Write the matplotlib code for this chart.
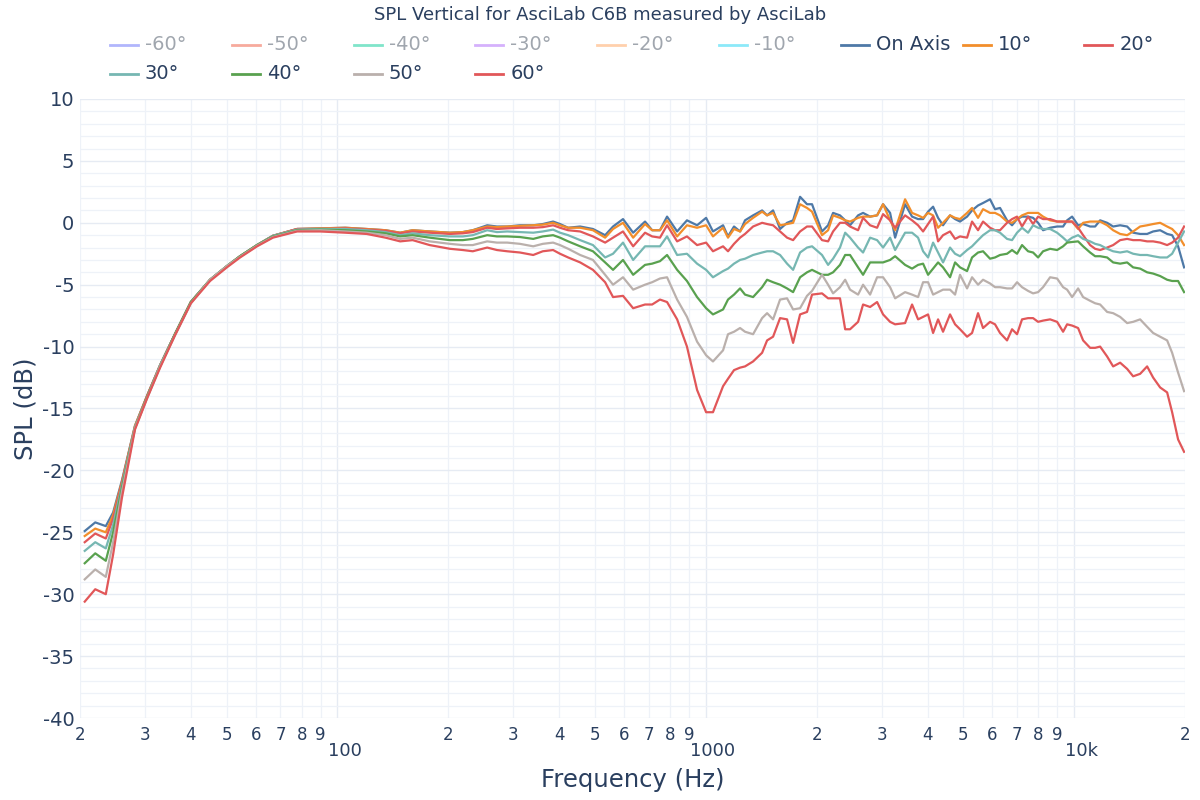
import matplotlib
matplotlib.use("Agg")
import matplotlib.pyplot as plt
from matplotlib.lines import Line2D
from matplotlib.transforms import ScaledTranslation

# frequency points (Hz)
freq = [20.6, 22.0, 23.5, 24.6, 26.0, 28.2, 30.4, 33.0, 36.2, 40.0,
        45.1, 50.1, 54.4, 60.5, 66.8, 77.7, 89.7, 105, 120, 135,
        148, 160, 178, 202, 219, 233, 255, 271, 289, 313,
        340, 361, 385, 402, 423, 456, 494, 533, 560, 596,
        635, 684, 715, 751, 785, 836, 889, 947, 1002, 1046,
        1114, 1149, 1193, 1239, 1278, 1344, 1422, 1467, 1523, 1591,
        1662, 1726, 1803, 1883, 1943, 2068, 2148, 2216, 2314, 2390,
        2464, 2591, 2673, 2793, 2918, 3029, 3165, 3266, 3476, 3631,
        3770, 3890, 4013, 4141, 4272, 4407, 4604, 4751, 4901, 5121,
        5283, 5485, 5659, 5912, 6099, 6293, 6575, 6784, 6999, 7221,
        7499, 7737, 7983, 8236, 8606, 8991, 9334, 9571, 9875, 10252,
        10578, 11052, 11403, 11766, 12292, 12762, 13333, 13929, 14461, 15108,
        15784, 16387, 17120, 17886, 18454, 19155, 19886]

spl_on = [-24.9, -24.2, -24.5, -23.4, -20.8, -16.4, -14.0, -11.5, -9.0, -6.4,
          -4.6, -3.5, -2.7, -1.8, -1.05, -0.5, -0.45, -0.4, -0.5, -0.6,
          -0.8, -0.6, -0.7, -0.8, -0.75, -0.6, -0.2, -0.3, -0.3, -0.2,
          -0.2, -0.1, 0.1, -0.1, -0.4, -0.3, -0.5, -1.0, -0.3, 0.3,
          -0.8, 0.1, -0.6, -0.6, 0.5, -0.7, 0.2, -0.2, 0.4, -0.7,
          -0.2, -1.1, -0.3, -0.7, 0.2, 0.6, 1.0, 0.6, 1.0, -0.5,
          0.0, 0.2, 2.1, 1.5, 1.5, -0.7, -0.2, 0.8, 0.6, 0.2,
          -0.2, 0.6, 0.8, 0.5, 0.6, 1.5, 0.8, -1.2, 1.5, 0.5,
          0.3, 0.3, 0.9, 1.3, 0.4, -0.2, 0.6, 0.3, 0.1, 0.5,
          1.0, 1.4, 1.6, 1.9, 1.1, 1.2, 0.2, -0.2, 0.3, 0.5,
          0.5, 0.4, 0.0, -0.6, -0.4, -0.3, -0.3, 0.2, 0.5, -0.2,
          -0.1, -0.3, -0.3, 0.2, 0.0, -0.3, -0.2, -0.3, -0.8, -0.9,
          -0.9, -0.7, -0.6, -0.9, -1.0, -1.9, -3.6]

spl_10 = [-25.3, -24.7, -25.0, -23.6, -20.9, -16.4, -14.0, -11.5, -9.0, -6.4,
          -4.6, -3.5, -2.7, -1.8, -1.05, -0.5, -0.45, -0.4, -0.5, -0.6,
          -0.8, -0.6, -0.7, -0.8, -0.75, -0.6, -0.3, -0.35, -0.3, -0.25,
          -0.2, -0.15, 0.0, -0.2, -0.4, -0.4, -0.6, -1.2, -0.5, 0.0,
          -1.2, -0.1, -0.6, -0.6, 0.2, -1.1, -0.2, -0.4, -0.2, -1.1,
          -0.4, -1.2, -0.5, -0.7, -0.1, 0.4, 0.9, 0.6, 0.8, -0.2,
          -0.1, 0.0, 1.5, 1.2, 0.9, -1.0, -0.6, 0.6, 0.4, 0.2,
          0.1, 0.4, 0.5, 0.5, 0.6, 1.5, 0.2, -0.6, 1.9, 0.8,
          0.6, 0.4, 0.8, 0.6, -0.4, 0.0, 0.6, 0.4, 0.3, 0.8,
          1.2, 0.4, 1.1, 0.8, 0.8, 0.6, 0.1, 0.0, 0.3, 0.6,
          0.8, 0.8, 0.8, 0.5, 0.2, 0.1, 0.1, 0.1, 0.1, -0.5,
          0.0, 0.1, 0.1, 0.1, -0.2, -0.6, -0.9, -1.0, -0.7, -0.3,
          -0.2, -0.1, 0.0, -0.3, -0.5, -1.0, -1.8]

spl_20 = [-25.8, -25.1, -25.5, -23.9, -21.0, -16.5, -14.0, -11.5, -9.0, -6.4,
          -4.6, -3.5, -2.7, -1.8, -1.05, -0.5, -0.5, -0.45, -0.55, -0.65,
          -0.85, -0.7, -0.8, -0.9, -0.85, -0.75, -0.4, -0.5, -0.45, -0.4,
          -0.4, -0.35, -0.2, -0.4, -0.6, -0.7, -1.1, -1.6, -1.2, -0.7,
          -1.9, -0.8, -1.1, -1.2, -0.2, -1.5, -1.1, -1.8, -1.6, -2.3,
          -1.9, -2.3, -1.7, -1.2, -0.9, -0.3, 0.0, -0.1, -0.2, -0.7,
          -1.2, -1.4, -0.7, -0.3, -0.3, -1.4, -1.5, -0.7, 0.0, 0.0,
          -0.3, -0.6, 0.4, -0.2, -0.4, 0.7, 0.2, -0.4, 0.6, 0.2,
          -0.2, -0.7, -0.1, 0.5, -1.5, -1.0, -0.7, -1.3, -1.1, -1.2,
          0.1, -0.6, 0.1, -0.4, -0.6, -0.6, 0.0, 0.3, 0.5, -0.3,
          0.5, -0.1, 0.5, 0.3, 0.3, 0.1, 0.1, 0.1, 0.1, -0.4,
          -1.0, -1.8, -2.1, -2.2, -2.0, -1.8, -1.4, -1.3, -1.4, -1.4,
          -1.5, -1.5, -1.6, -1.8, -1.6, -1.2, -0.3]

spl_30 = [-26.5, -25.8, -26.3, -24.4, -21.2, -16.5, -14.1, -11.5, -9.0, -6.4,
          -4.6, -3.5, -2.7, -1.8, -1.05, -0.55, -0.5, -0.5, -0.6, -0.75,
          -1.0, -0.85, -1.0, -1.1, -1.1, -1.0, -0.6, -0.75, -0.7, -0.75,
          -0.8, -0.7, -0.55, -0.8, -1.0, -1.4, -1.8, -2.8, -2.5, -1.6,
          -3.0, -1.9, -1.9, -1.9, -1.1, -2.6, -2.5, -3.3, -3.8, -4.4,
          -3.9, -3.7, -3.3, -3.0, -2.9, -2.6, -2.4, -2.3, -2.3, -2.6,
          -3.3, -3.8, -2.4, -2.0, -1.9, -2.6, -3.4, -2.9, -2.0, -0.8,
          -1.2, -2.0, -2.4, -1.2, -1.4, -2.0, -1.2, -2.2, -0.8, -0.8,
          -1.2, -2.3, -2.8, -1.6, -2.4, -3.2, -2.0, -2.5, -2.7, -2.2,
          -1.9, -1.4, -1.0, -0.6, -0.6, -0.8, -1.3, -1.4, -0.8, -0.4,
          -0.8, -0.2, -0.4, -0.5, -0.5, -0.8, -1.2, -1.5, -1.2, -1.0,
          -1.3, -1.5, -1.7, -1.8, -2.1, -2.3, -2.4, -2.3, -2.5, -2.6,
          -2.6, -2.7, -2.8, -2.8, -2.5, -1.6, -0.7]

spl_40 = [-27.5, -26.7, -27.3, -25.0, -21.4, -16.6, -14.1, -11.6, -9.0, -6.4,
          -4.6, -3.5, -2.7, -1.8, -1.1, -0.6, -0.55, -0.6, -0.7, -0.85,
          -1.1, -1.0, -1.2, -1.4, -1.4, -1.3, -1.0, -1.1, -1.1, -1.15,
          -1.3, -1.1, -1.0, -1.2, -1.5, -1.9, -2.3, -3.2, -3.8, -3.0,
          -4.2, -3.4, -3.3, -3.1, -2.6, -3.8, -4.7, -6.0, -6.9, -7.4,
          -7.0, -6.2, -5.8, -5.3, -5.8, -6.0, -5.2, -4.6, -4.8, -5.0,
          -5.3, -5.6, -4.4, -4.0, -3.8, -4.2, -4.2, -4.0, -3.4, -2.6,
          -2.6, -3.6, -4.2, -3.2, -3.2, -3.2, -3.0, -2.7, -3.4, -3.7,
          -3.4, -3.3, -4.2, -3.7, -3.2, -3.6, -4.4, -3.2, -3.6, -3.9,
          -2.8, -2.4, -2.3, -2.9, -2.8, -2.6, -2.5, -2.2, -2.5, -1.8,
          -2.3, -2.4, -2.8, -2.3, -2.1, -2.2, -1.9, -1.6, -1.55, -1.5,
          -1.9, -2.4, -2.7, -2.7, -2.8, -3.2, -3.3, -3.2, -3.6, -3.7,
          -4.0, -4.1, -4.3, -4.6, -4.7, -4.7, -5.6]

spl_50 = [-28.8, -28.0, -28.6, -25.8, -21.7, -16.6, -14.2, -11.6, -9.1, -6.5,
          -4.6, -3.5, -2.75, -1.85, -1.15, -0.65, -0.6, -0.7, -0.8, -1.0,
          -1.3, -1.2, -1.5, -1.7, -1.8, -1.8, -1.5, -1.6, -1.6, -1.7,
          -1.9, -1.7, -1.6, -1.8, -2.1, -2.6, -3.0, -4.2, -5.0, -4.4,
          -5.4, -5.0, -4.8, -4.5, -4.4, -6.2, -7.6, -9.6, -10.7, -11.2,
          -10.3, -9.0, -8.8, -8.5, -8.8, -9.0, -7.7, -7.3, -7.8, -6.2,
          -6.1, -7.0, -6.9, -5.9, -5.5, -4.2, -5.0, -5.7, -5.2, -4.6,
          -5.4, -5.8, -5.0, -5.8, -4.4, -4.4, -5.2, -6.1, -5.6, -5.8,
          -6.0, -4.8, -4.8, -5.8, -5.6, -5.4, -5.4, -5.8, -4.2, -5.3,
          -4.4, -5.0, -4.6, -4.9, -5.2, -5.2, -5.3, -5.3, -4.8, -5.2,
          -5.5, -5.7, -5.6, -5.2, -4.4, -4.5, -5.2, -5.4, -6.0, -5.3,
          -6.0, -6.3, -6.5, -6.6, -7.2, -7.3, -7.6, -8.1, -8.0, -7.8,
          -8.4, -8.9, -9.2, -9.5, -10.5, -12.1, -13.6]

spl_60 = [-30.6, -29.6, -30.0, -26.8, -22.2, -16.7, -14.2, -11.7, -9.1, -6.5,
          -4.7, -3.6, -2.8, -1.9, -1.2, -0.7, -0.7, -0.8, -0.9, -1.2,
          -1.5, -1.4, -1.8, -2.1, -2.2, -2.3, -2.0, -2.2, -2.3, -2.4,
          -2.6, -2.3, -2.2, -2.5, -2.8, -3.2, -3.8, -4.8, -6.0, -5.9,
          -6.9, -6.6, -6.6, -6.2, -6.4, -7.8, -10.0, -13.5, -15.3, -15.3,
          -13.2, -12.6, -11.9, -11.7, -11.6, -11.2, -10.5, -9.5, -9.2, -7.7,
          -7.8, -9.7, -7.4, -7.2, -5.8, -5.7, -6.1, -6.1, -6.1, -8.6,
          -8.6, -8.0, -6.6, -6.8, -6.4, -7.4, -8.0, -8.2, -8.1, -6.6,
          -7.8, -7.6, -7.4, -8.9, -7.8, -8.8, -7.4, -8.2, -8.6, -9.2,
          -8.9, -7.3, -8.5, -8.0, -8.2, -8.9, -9.5, -8.6, -9.0, -7.8,
          -7.7, -7.7, -8.0, -7.9, -7.8, -8.0, -8.8, -8.2, -8.3, -8.5,
          -9.5, -10.1, -10.1, -10.0, -10.8, -11.6, -11.3, -11.8, -12.4, -12.2,
          -11.6, -12.5, -13.3, -13.7, -15.3, -17.5, -18.5]

# hidden (legend only) series
hidden_names = ["-60°", "-50°", "-40°", "-30°", "-20°", "-10°"]
hidden_colors = ["#b1b6fc", "#f7aa9d", "#80e5ca", "#d5b1fc", "#ffd0ac", "#8ce9f9"]

shown_names = ["On Axis", "10°", "20°", "30°", "40°", "50°", "60°"]
shown_data = [spl_on, spl_10, spl_20, spl_30, spl_40, spl_50, spl_60]
shown_colors = ["#4e79a7", "#f28e2b", "#e15759", "#76b7b2", "#59a14f", "#bab0ac", "#e15759"]

TXT = "#2a3f5f"
plt.rcParams["font.family"] = ["DejaVu Sans"]
plt.rcParams["axes.unicode_minus"] = False

W, H = 1200, 800
fig = plt.figure(figsize=(12, 8), dpi=100)
ax = fig.add_axes([80 / W, 1 - 718 / H, 1105 / W, 619 / H])

for vals, col in zip(shown_data, shown_colors):
    ax.plot(freq, vals, color=col, lw=1.6, solid_joinstyle="round")

ax.set_xscale("log")
ax.set_xlim(20, 20000)
ax.set_ylim(-40, 10)

# x ticks: decades as major, digits as minor
major = [100, 1000, 10000]
ax.set_xticks(major)
ax.set_xticklabels(["100", "1000", "10k"])
minor = []
for base in [10, 100, 1000, 10000]:
    for m in range(2, 10):
        v = base * m
        if 20 <= v <= 20000:
            minor.append(v)
ax.set_xticks(minor, minor=True)
ax.set_xticklabels([str(v)[0] for v in minor], minor=True)

yt = list(range(-40, 11, 5))
ax.set_yticks(yt)
ax.set_yticklabels([str(v) for v in yt])
ax.set_yticks(list(range(-40, 11)), minor=True)

ax.tick_params(axis="x", which="major", length=0, pad=17.5, labelsize=13, labelcolor=TXT)
ax.tick_params(axis="x", which="minor", length=0, pad=6, labelsize=12, labelcolor=TXT)
ax.tick_params(axis="y", which="both", length=0, pad=4, labelsize=14, labelcolor=TXT)

# decade labels sit a little right of their gridline
shift = ScaledTranslation(7 / 100, 0, fig.dpi_scale_trans)
for lbl in ax.xaxis.get_majorticklabels():
    lbl.set_transform(lbl.get_transform() + shift)

ax.grid(True, which="major", color="#e6ebf3", lw=1.0)
ax.grid(True, which="minor", color="#eef2f8", lw=0.9)
ax.set_axisbelow(True)
for s in ax.spines.values():
    s.set_visible(False)

ax.set_xlabel("Frequency (Hz)", fontsize=17.5, color=TXT, va="center")
ax.xaxis.set_label_coords(0.5, (718 - 780) / 619)
ax.set_ylabel("SPL (dB)", fontsize=17.5, color=TXT, va="center")
ax.yaxis.set_label_coords((25 - 80) / 1105, 0.5)

fig.text(0.5, 1 - 15 / H, "SPL Vertical for AsciLab C6B measured by AsciLab",
         ha="center", va="center", fontsize=13, color=TXT)

# legend drawn by hand: 9 columns, fixed width
names = hidden_names + shown_names
colors = hidden_colors + shown_colors
for i, (name, col) in enumerate(zip(names, colors)):
    row, c = divmod(i, 9)
    x0 = 110 + 121.8 * c
    y = 45 + 28.5 * row
    fig.add_artist(Line2D([x0 / W, (x0 + 28) / W], [1 - y / H, 1 - y / H],
                          transform=fig.transFigure, color=col, lw=2))
    fig.text((x0 + 35) / W, 1 - y / H, name, ha="left", va="center",
             fontsize=14, color="#a0a6ae" if i < 6 else TXT)

fig.savefig("out.png", dpi=100, facecolor="white")
